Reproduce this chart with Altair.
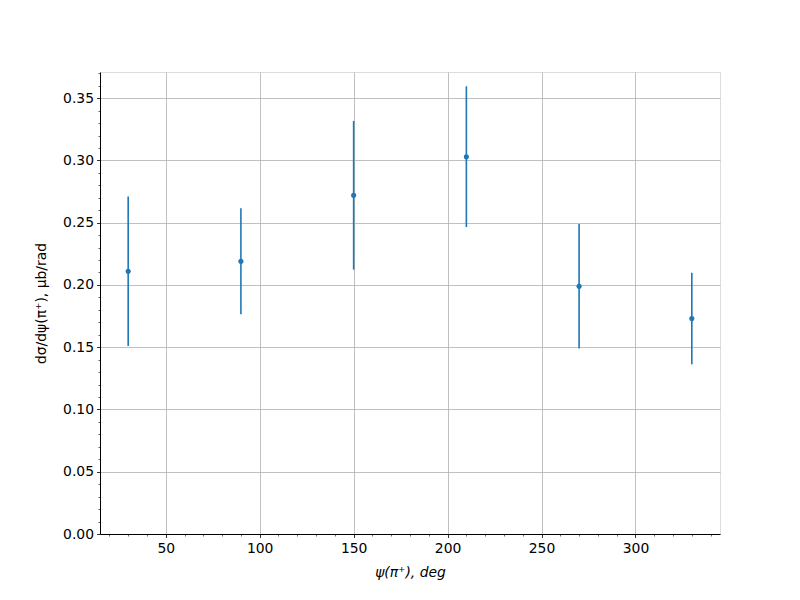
import altair as alt
import pandas as pd

psi = [30, 90, 150, 210, 270, 330]
dsig = [0.211, 0.219, 0.272, 0.303, 0.199, 0.173]
err = [0.060, 0.0425, 0.0597, 0.0565, 0.050, 0.0367]

x_major = [50, 100, 150, 200, 250, 300]
x_minor = [20, 30, 40, 60, 70, 80, 90, 110, 120, 130, 140, 160, 170, 180, 190,
           210, 220, 230, 240, 260, 270, 280, 290, 310, 320, 330, 340]
y_major = [0.0, 0.05, 0.10, 0.15, 0.20, 0.25, 0.30, 0.35]
y_minor = [i / 100 for i in range(0, 38) if i % 5 != 0]

df = pd.DataFrame({"psi": psi, "dsig": dsig,
                   "lo": [v - e for v, e in zip(dsig, err)],
                   "hi": [v + e for v, e in zip(dsig, err)]})

FONT = "DejaVu Sans"
C = "#1f77b4"
xs = alt.Scale(domain=[15, 345], nice=False, zero=False)
ys = alt.Scale(domain=[0, 0.371], nice=False)

xaxis = alt.Axis(values=x_major, title="ψ(π⁺), deg", titleFontStyle="italic",
                 grid=True, gridColor="#b0b0b0", gridWidth=0.8,
                 domainColor="black", tickColor="black", tickSize=3.5, tickWidth=0.8,
                 labelFont=FONT, labelFontSize=13.9, labelColor="black", labelPadding=4,
                 titleFont=FONT, titleFontSize=13.9, titleFontWeight="normal",
                 titleColor="black", titlePadding=10, labelFlush=False)
yaxis = alt.Axis(values=y_major, format=".2f", title="dσ/dψ(π⁺), μb/rad",
                 grid=True, gridColor="#b0b0b0", gridWidth=0.8,
                 domainColor="black", tickColor="black", tickSize=3.5, tickWidth=0.8,
                 labelFont=FONT, labelFontSize=13.9, labelColor="black", labelPadding=3,
                 titleFont=FONT, titleFontSize=13.9, titleFontWeight="normal",
                 titleColor="black", titlePadding=14, labelFlush=False)

base = alt.Chart(df)
bars = base.mark_rule(color=C, strokeWidth=1.6).encode(
    x=alt.X("psi:Q", scale=xs, axis=xaxis),
    y=alt.Y("lo:Q", scale=ys, axis=yaxis),
    y2="hi:Q")
pts = base.mark_circle(color=C, size=26, opacity=1).encode(
    x=alt.X("psi:Q", scale=xs), y=alt.Y("dsig:Q", scale=ys))

minor = base.mark_point(opacity=0).encode(
    x=alt.X("psi:Q", scale=xs, axis=alt.Axis(values=x_minor, orient="bottom", labels=False,
                                               grid=False, domain=False, tickSize=2,
                                               tickWidth=0.6, tickColor="black", title=None)),
    y=alt.Y("dsig:Q", scale=ys, axis=alt.Axis(values=y_minor, orient="left", labels=False,
                                               grid=False, domain=False, tickSize=2,
                                               tickWidth=0.6, tickColor="black", title=None)))

main = alt.layer(bars, pts)
chart = alt.layer(main, minor).resolve_axis(x="independent", y="independent").properties(
    width=620, height=462,
    padding={"left": 92, "top": 64, "right": 72, "bottom": 58},
    autosize=alt.AutoSizeParams(type="none"),
).configure_view(stroke="black", strokeWidth=1).configure(background="white")

chart.save("out.html", embed_options={"renderer": "svg", "actions": False})
